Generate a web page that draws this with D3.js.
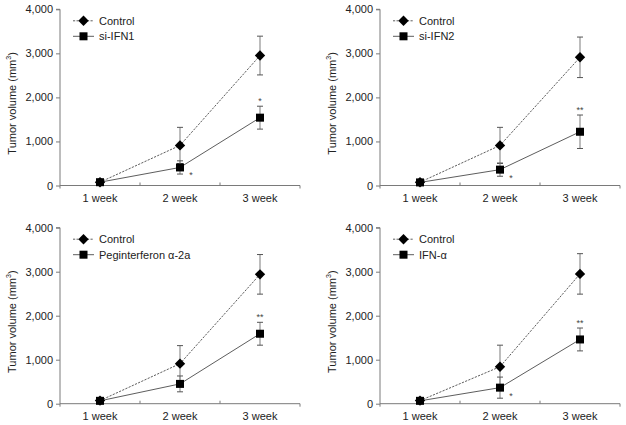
<!DOCTYPE html>
<html><head><meta charset="utf-8">
<script src="https://cdn.jsdelivr.net/npm/d3@7"></script>
<style>
html,body{margin:0;padding:0;background:#fff;}
svg{display:block;font-family:"Liberation Sans",Arial,sans-serif;}
</style></head>
<body><svg id="c" width="626" height="425"></svg>
<script>
// ---- data ----
const categories = ["1 week", "2 week", "3 week"];
const yTicks = [0, 1000, 2000, 3000, 4000];
const treatmentNames = ["si-IFN1", "si-IFN2", "Peginterferon \u03b1-2a", "IFN-\u03b1"];
const controlMeans = [
  [75, 910, 2950],
  [75, 910, 2910],
  [70, 910, 2940],
  [70, 840, 2950]
];
const controlErrors = [
  [20, 410, 440],
  [20, 410, 460],
  [20, 410, 450],
  [20, 490, 460]
];
const treatMeans = [
  [75, 410, 1540],
  [70, 360, 1220],
  [65, 450, 1590],
  [65, 365, 1460]
];
const treatErrors = [
  [20, 150, 260],
  [20, 150, 380],
  [20, 180, 260],
  [20, 240, 260]
];
const sigLabels = [
  ["", "*", "*"],
  ["", "*", "**"],
  ["", "", "**"],
  ["", "*", "**"]
];

// ---- layout ----
const panels = [
  {ox: 60, top: 9.3, bottom: 185.5},
  {ox: 380, top: 9.3, bottom: 185.5},
  {ox: 60, top: 227.7, bottom: 403.7},
  {ox: 380, top: 227.7, bottom: 403.7}
];
const plotW = 240;
const axisColor = "#7a7a7a";
const textColor = "#222";
const svg = d3.select("#c");

const diamond = d3.symbol().type(d3.symbolDiamond).size(42);
function diamondPath(){ // wider diamond
  const s = 5.2;
  return `M0,${-s}L${s},0L0,${s}L${-s},0Z`;
}

panels.forEach((p, pi) => {
  const g = svg.append("g");
  const x = d3.scaleBand().domain(categories).range([p.ox, p.ox + plotW]);
  const y = d3.scaleLinear().domain([0, 4000]).range([p.bottom, p.top]);

  // y axis
  const ya = g.append("g").attr("transform", `translate(${p.ox},0)`)
    .call(d3.axisLeft(y).tickValues(yTicks).tickSize(4).tickPadding(3).tickFormat(d3.format(",")));
  ya.select(".domain").attr("d", `M-4,${p.top}H0V${p.bottom + 3}`).attr("stroke", axisColor);
  ya.selectAll(".tick line").attr("stroke", axisColor);
  ya.selectAll(".tick text").attr("font-size", 11).attr("fill", textColor)
    .attr("font-family", "Liberation Sans, Arial, sans-serif");

  // x axis
  const xa = g.append("g").attr("transform", `translate(0,${p.bottom})`)
    .call(d3.axisBottom(x).tickSize(0).tickPadding(9));
  xa.select(".domain").attr("d", `M${p.ox},0H${p.ox + plotW}`).attr("stroke", axisColor);
  xa.selectAll(".tick text").attr("font-size", 11).attr("fill", textColor)
    .attr("font-family", "Liberation Sans, Arial, sans-serif");
  // boundary ticks
  const bounds = categories.map(c => x(c) + x.bandwidth());
  xa.selectAll(".bt").data(bounds).enter().append("line")
    .attr("x1", d => d).attr("x2", d => d)
    .attr("y1", 0).attr("y2", (d, i) => i === bounds.length - 1 ? 3 : -3)
    .attr("stroke", axisColor);

  // y title
  const tt = g.append("text")
    .attr("transform", `translate(${p.ox - 44},${(p.top + p.bottom) / 2 + 6}) rotate(-90)`)
    .attr("text-anchor", "middle").attr("font-size", 11).attr("fill", textColor);
  tt.append("tspan").text("Tumor volume (mm");
  tt.append("tspan").attr("font-size", 7).attr("dy", -5).text("3");
  tt.append("tspan").attr("dy", 5).text(")");

  const cx = c => x(c) + x.bandwidth() / 2;
  const series = [
    {means: controlMeans[pi], errs: controlErrors[pi], dash: "2.2,1.3", marker: "diamond"},
    {means: treatMeans[pi], errs: treatErrors[pi], dash: null, marker: "square"}
  ];

  // lines
  const line = d3.line().x((d, i) => cx(categories[i])).y(d => y(d));
  series.forEach(s => {
    g.append("path").datum(s.means).attr("d", line)
      .attr("fill", "none").attr("stroke", "#333").attr("stroke-width", 0.8)
      .attr("stroke-dasharray", s.dash);
  });

  // error bars
  series.forEach(s => {
    s.means.forEach((m, i) => {
      if (i === 0) return;
      const xc = cx(categories[i]);
      const y1 = y(m + s.errs[i]), y2 = y(m - s.errs[i]);
      g.append("line").attr("x1", xc).attr("x2", xc).attr("y1", y1).attr("y2", y2)
        .attr("stroke", "#999").attr("stroke-width", 1.3);
      [y1, y2].forEach(yy => g.append("line").attr("x1", xc - 3).attr("x2", xc + 3)
        .attr("y1", yy).attr("y2", yy).attr("stroke", "#555").attr("stroke-width", 1));
    });
  });

  // markers
  series.forEach(s => {
    s.means.forEach((m, i) => {
      const xc = cx(categories[i]), yc = y(m);
      if (s.marker === "diamond") {
        g.append("path").attr("d", diamondPath()).attr("transform", `translate(${xc},${yc})`).attr("fill", "#000");
      } else {
        g.append("rect").attr("x", xc - 4).attr("y", yc - 4).attr("width", 8).attr("height", 8).attr("fill", "#000");
      }
    });
  });

  // significance
  sigLabels[pi].forEach((lab, i) => {
    if (!lab) return;
    const xc = cx(categories[i]);
    const m = treatMeans[pi][i], e = treatErrors[pi][i];
    if (i === categories.length - 1) {
      g.append("text").attr("x", xc).attr("y", y(m + e) - 2.5).attr("text-anchor", "middle")
        .attr("font-size", 9).attr("fill", "#444").text(lab);
    } else {
      g.append("text").attr("x", xc + 11).attr("y", y(m) + 11).attr("text-anchor", "middle")
        .attr("font-size", 9).attr("fill", "#444").text(lab);
    }
  });

  // legend
  const lx = p.ox + 13;
  const rows = [
    {name: "Control", dash: "2.2,1.3", marker: "diamond"},
    {name: treatmentNames[pi], dash: null, marker: "square"}
  ];
  rows.forEach((r, ri) => {
    const ly = p.top + (ri === 0 ? 11.5 : 27);
    g.append("line").attr("x1", lx).attr("x2", lx + 21).attr("y1", ly).attr("y2", ly)
      .attr("stroke", "#333").attr("stroke-width", 0.8).attr("stroke-dasharray", r.dash);
    if (r.marker === "diamond") {
      g.append("path").attr("d", diamondPath()).attr("transform", `translate(${lx + 10.5},${ly})`).attr("fill", "#000");
    } else {
      g.append("rect").attr("x", lx + 6.5).attr("y", ly - 4).attr("width", 8).attr("height", 8).attr("fill", "#000");
    }
    g.append("text").attr("x", p.ox + 39).attr("y", ly + 4).attr("font-size", 11)
      .attr("fill", textColor).text(r.name);
  });
});
</script>
</body></html>
